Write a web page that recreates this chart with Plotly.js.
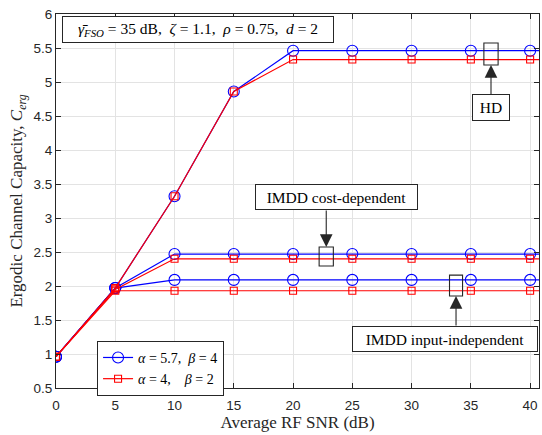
<!DOCTYPE html>
<html>
<head>
<meta charset="utf-8">
<script src="https://cdn.plot.ly/plotly-3.0.1.min.js"></script>
<style>html,body{margin:0;padding:0;background:#fff;}#chart{width:542px;height:435px;}</style>
</head>
<body>
<div id="chart"></div>
<script>
// Average RF SNR (dB)
const snr = [0, 5, 10, 15, 20, 25, 30, 35, 40, 45];
// alpha = 5.7, beta = 4 (blue)
const hdA   = [0.96, 1.97, 3.32, 4.86, 5.46, 5.46, 5.46, 5.46, 5.46, 5.46];
const costA = [0.96, 1.97, 2.47, 2.47, 2.47, 2.47, 2.47, 2.47, 2.47, 2.47];
const indA  = [0.96, 1.97, 2.09, 2.09, 2.09, 2.09, 2.09, 2.09, 2.09, 2.09];
// alpha = 4, beta = 2 (red)
const hdB   = [0.96, 1.97, 3.32, 4.86, 5.33, 5.33, 5.33, 5.33, 5.33, 5.33];
const costB = [0.96, 1.95, 2.40, 2.40, 2.40, 2.40, 2.40, 2.40, 2.40, 2.40];
const indB  = [0.96, 1.93, 1.93, 1.93, 1.93, 1.93, 1.93, 1.93, 1.93, 1.93];
const seriesNames = ['<i>α</i> = 5.7,  <i>β</i> = 4', '<i>α</i> = 4,    <i>β</i> = 2'];
const xTicks = [0, 5, 10, 15, 20, 25, 30, 35, 40];
const yTicks = [0.5, 1, 1.5, 2, 2.5, 3, 3.5, 4, 4.5, 5, 5.5, 6];

const SERIF = '"Liberation Serif", "Times New Roman", serif';
const SANS = '"Liberation Sans", Arial, sans-serif';

function blue(y, show) {
  return {x: snr, y: y, type: 'scatter', mode: 'lines+markers', name: seriesNames[0],
    legendgroup: 'a', showlegend: show,
    line: {color: '#0000ff', width: 1.2},
    marker: {symbol: 'circle-open', size: 11, color: '#0000ff', line: {width: 1.1}}};
}
function red(y, show) {
  return {x: snr, y: y, type: 'scatter', mode: 'lines+markers', name: seriesNames[1],
    legendgroup: 'b', showlegend: show,
    line: {color: '#ff0000', width: 1.2},
    marker: {symbol: 'square-open', size: 7, color: '#ff0000', line: {width: 1.1}}};
}
const data = [blue(hdA, true), blue(costA, false), blue(indA, false),
              red(hdB, true), red(costB, false), red(indB, false)];

const axisCommon = {
  showline: true, linecolor: '#262626', linewidth: 1, mirror: 'ticks',
  ticks: 'inside', ticklen: 5, tickwidth: 1, tickcolor: '#262626',
  showgrid: true, gridcolor: '#e3e3e3', gridwidth: 1, zeroline: false,
  tickfont: {family: SANS, size: 13.5, color: '#262626'}
};

const boxStyle = {bordercolor: '#262626', borderwidth: 1, bgcolor: '#ffffff',
  font: {family: SERIF, size: 15.5, color: '#000'}, showarrow: false, xref: 'x', yref: 'y'};
const arrowStyle = {text: '', showarrow: true, arrowhead: 2, arrowsize: 2.3, arrowwidth: 1.1,
  arrowcolor: '#262626', xref: 'x', yref: 'y', axref: 'pixel', ayref: 'pixel', ax: 0};

const layout = {
  width: 542, height: 435,
  margin: {l: 56, r: 3, t: 14, b: 47},
  paper_bgcolor: '#fff', plot_bgcolor: '#fff',
  xaxis: Object.assign({}, axisCommon, {range: [0, 40.75], tickvals: xTicks, ticklabelstandoff: 5,
    title: {text: 'Average RF SNR (dB)', font: {family: SERIF, size: 17, color: '#262626'}, standoff: 3}}),
  yaxis: Object.assign({}, axisCommon, {range: [0.5, 6], tickvals: yTicks,
    title: {text: 'Ergodic Channel Capacity, <i>C</i><sub><i>erg</i></sub>', font: {family: SERIF, size: 17, color: '#262626'}, standoff: 6}}),
  showlegend: true,
  legend: {x: 0.085, y: 0.126, xanchor: 'left', yanchor: 'top', bgcolor: '#fff',
    bordercolor: '#262626', borderwidth: 1, font: {family: SERIF, size: 14, color: '#000'},
    tracegroupgap: 0, itemwidth: 30},
  shapes: [
    {type: 'rect', xref: 'x', yref: 'y', x0: 36.1, x1: 37.3, y0: 5.25, y1: 5.574, line: {color: '#262626', width: 1.1}},
    {type: 'rect', xref: 'x', yref: 'y', x0: 22.2, x1: 23.4, y0: 2.294, y1: 2.574, line: {color: '#262626', width: 1.1}},
    {type: 'rect', xref: 'x', yref: 'y', x0: 33.2, x1: 34.3, y0: 1.853, y1: 2.16, line: {color: '#262626', width: 1.1}}
  ],
  annotations: [
    Object.assign({}, boxStyle, {x: 11.98, y: 5.772, text: '<i>γ\u0304</i><sub><i>FSO</i></sub> = 35 dB,  <i>ζ</i> = 1.1,  <i>ρ</i> = 0.75,  <i>d</i> = 2',
      width: 268, height: 23, borderpad: 1}),
    Object.assign({}, boxStyle, {x: 23.67, y: 3.309, text: 'IMDD cost-dependent', width: 159, height: 22, borderpad: 1}),
    Object.assign({}, boxStyle, {x: 32.83, y: 1.221, text: 'IMDD input-independent', width: 182, height: 22, borderpad: 1}),
    Object.assign({}, boxStyle, {x: 36.7, y: 5.25, text: 'HD', width: 34, height: 23, borderpad: 1,
      showarrow: true, arrowhead: 2, arrowsize: 2.3, arrowwidth: 1.1, arrowcolor: '#262626',
      axref: 'pixel', ayref: 'pixel', ax: 0, ay: 42.5}),
    Object.assign({}, arrowStyle, {x: 22.8, y: 2.574, ay: -38}),
    Object.assign({}, arrowStyle, {x: 33.75, y: 1.853, ay: 31})
  ]
};

Plotly.newPlot('chart', data, layout, {displayModeBar: false, staticPlot: true});
</script>
</body>
</html>
